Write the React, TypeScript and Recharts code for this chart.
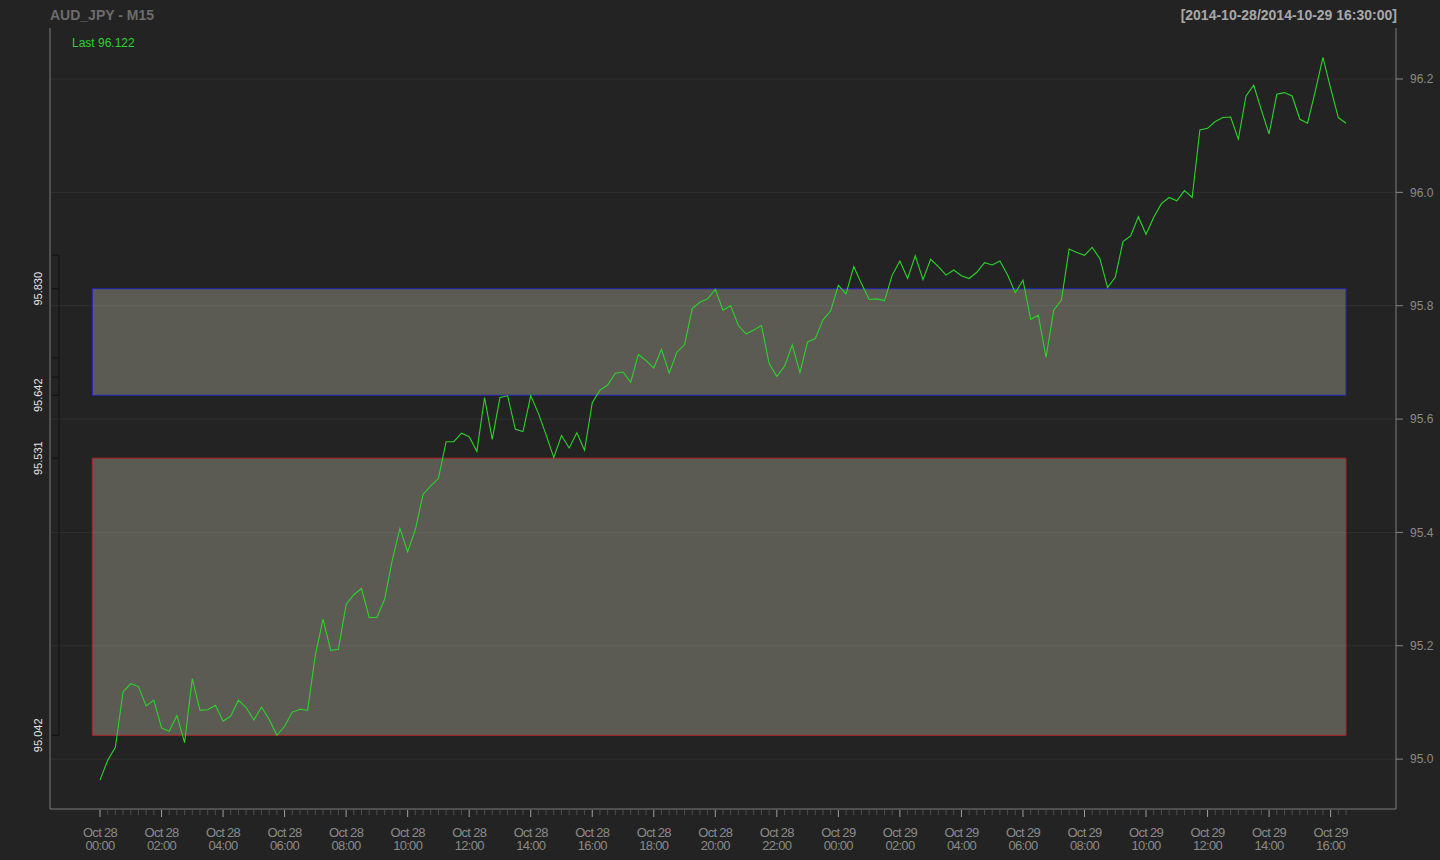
import {
  LineChart,
  Line,
  XAxis,
  YAxis,
  CartesianGrid,
  ReferenceArea,
  ReferenceLine,
} from "recharts";

const title = "AUD_JPY - M15";
const rangeLabel = "[2014-10-28/2014-10-29 16:30:00]";
const lastLabel = "Last 96.122";

// 15-minute closes, Oct 28 00:00 -> Oct 29 16:30
const prices = [
  94.963, 94.998, 95.021, 95.119, 95.133, 95.128, 95.094, 95.104, 95.055, 95.049,
  95.077, 95.029, 95.142, 95.086, 95.087, 95.095, 95.067, 95.076, 95.104, 95.091,
  95.069, 95.092, 95.07, 95.042, 95.058, 95.083, 95.088, 95.086, 95.184, 95.247,
  95.192, 95.194, 95.273, 95.29, 95.301, 95.25, 95.25, 95.282, 95.351, 95.407,
  95.366, 95.405, 95.467, 95.482, 95.495, 95.56, 95.56, 95.575, 95.569, 95.543,
  95.638, 95.564, 95.638, 95.641, 95.582, 95.578, 95.641, 95.61, 95.572, 95.532,
  95.571, 95.549, 95.576, 95.545, 95.629, 95.651, 95.66, 95.681, 95.683, 95.665,
  95.714, 95.703, 95.69, 95.723, 95.681, 95.718, 95.731, 95.795, 95.806, 95.812,
  95.829, 95.792, 95.8, 95.765, 95.75, 95.757, 95.765, 95.698, 95.675, 95.693,
  95.731, 95.682, 95.736, 95.742, 95.775, 95.791, 95.836, 95.821, 95.869, 95.839,
  95.811, 95.812, 95.809, 95.854, 95.879, 95.848, 95.888, 95.846, 95.882, 95.869,
  95.854, 95.863, 95.853, 95.848, 95.859, 95.876, 95.872, 95.879, 95.854, 95.823,
  95.845, 95.776, 95.783, 95.709, 95.792, 95.81, 95.9, 95.894, 95.889, 95.903,
  95.883, 95.832, 95.85, 95.913, 95.923, 95.957, 95.926, 95.956, 95.98, 95.991,
  95.985, 96.003, 95.991, 96.11, 96.113, 96.125, 96.132, 96.133, 96.094, 96.17,
  96.189, 96.145, 96.103, 96.173, 96.176, 96.17, 96.129, 96.122, 96.178, 96.238,
  96.184, 96.132, 96.122,
];

// one label every 8 bars (2 hours)
const tickDays = [
  "Oct 28", "Oct 28", "Oct 28", "Oct 28", "Oct 28", "Oct 28", "Oct 28",
  "Oct 28", "Oct 28", "Oct 28", "Oct 28", "Oct 28", "Oct 29", "Oct 29",
  "Oct 29", "Oct 29", "Oct 29", "Oct 29", "Oct 29", "Oct 29", "Oct 29",
];
const tickTimes = [
  "00:00", "02:00", "04:00", "06:00", "08:00", "10:00", "12:00",
  "14:00", "16:00", "18:00", "20:00", "22:00", "00:00", "02:00",
  "04:00", "06:00", "08:00", "10:00", "12:00", "14:00", "16:00",
];
const LABEL_EVERY = 8;

const priceTicks = [95.0, 95.2, 95.4, 95.6, 95.8, 96.0, 96.2];
const levelTicks = [95.889, 95.83, 95.708, 95.674, 95.642, 95.531, 95.042];
const labeledLevels = ["95.830", "95.642", "95.531", "95.042"];
const upperZone = [95.642, 95.83];
const lowerZone = [95.042, 95.531];

const data = prices.map((price, i) => ({ i, price }));
const barTicks = prices.map((_, i) => i);

const X_DOMAIN: [number, number] = [-6.5, 168.5];
const Y_DOMAIN: [number, number] = [94.912, 96.29];
const LEVEL_AXIS_X = -5.33;

const BG = "#232323";
const FRAME = "#7c7c7c";
const GREEN = "#2ad42a";
const FONT = "'Liberation Sans', Arial, sans-serif";

function TimeTick(props: any) {
  const { x, y, payload } = props;
  const i = payload.value as number;
  const major = i % LABEL_EVERY === 0;
  const k = i / LABEL_EVERY;
  return (
    <g>
      <line
        x1={x}
        x2={x}
        y1={y + 1}
        y2={y + (major ? 8 : 6)}
        stroke={major ? "#a0a0a0" : "#4e4e4e"}
        strokeWidth={1}
      />
      {major ? (
        <text
          x={x}
          y={y}
          textAnchor="middle"
          fill="#8a8a8a"
          fontSize={13}
          letterSpacing={-0.7}
          fontFamily={FONT}
        >
          <tspan x={x} dy={27.5}>
            {tickDays[k]}
          </tspan>
          <tspan x={x} dy={13.5}>
            {tickTimes[k]}
          </tspan>
        </text>
      ) : null}
    </g>
  );
}

function LevelTick(props: any) {
  const { x, y, payload } = props;
  const label = payload.value.toFixed(3);
  const shown = labeledLevels.includes(label);
  return (
    <g>
      <line x1={x + 2} x2={x + 9} y1={y} y2={y} stroke="#111111" />
      {shown ? (
        <text
          transform={`translate(${x - 8}, ${y}) rotate(-90)`}
          textAnchor="middle"
          fill="#e2e2e2"
          fontSize={11}
          fontFamily={FONT}
        >
          {label}
        </text>
      ) : null}
    </g>
  );
}

export default function App() {
  return (
    <div
      style={{
        position: "fixed",
        left: 0,
        top: 0,
        width: 1440,
        height: 860,
        background: BG,
        overflow: "hidden",
      }}
    >
      <LineChart
        width={1440}
        height={860}
        data={data}
        margin={{ top: 28, right: 0, bottom: 0, left: 0 }}
        style={{ position: "absolute", left: 0, top: 0 }}
      >
        <CartesianGrid
          xAxisId="x"
          yAxisId="price"
          vertical={false}
          stroke="#313131"
          horizontalValues={priceTicks}
        />
        <XAxis
          xAxisId="x"
          dataKey="i"
          type="number"
          domain={X_DOMAIN}
          ticks={barTicks}
          interval={0}
          height={51}
          tickSize={0}
          tickMargin={0}
          tickLine={false}
          axisLine={{ stroke: FRAME }}
          tick={(p: any) => <TimeTick {...p} />}
          allowDataOverflow
        />
        <XAxis
          xAxisId="top"
          dataKey="i"
          type="number"
          orientation="top"
          domain={X_DOMAIN}
          height={0}
          tick={false}
          tickLine={false}
          axisLine={{ stroke: FRAME }}
          allowDataOverflow
        />
        <YAxis
          yAxisId="level"
          orientation="left"
          type="number"
          domain={Y_DOMAIN}
          ticks={levelTicks}
          interval={0}
          width={50}
          tickSize={0}
          tickMargin={0}
          tickLine={false}
          axisLine={{ stroke: FRAME }}
          tick={(p: any) => <LevelTick {...p} />}
          allowDataOverflow
        />
        <YAxis
          yAxisId="price"
          orientation="right"
          type="number"
          domain={Y_DOMAIN}
          ticks={priceTicks}
          interval={0}
          width={44}
          tickSize={7}
          tickMargin={7}
          tickLine={{ stroke: "#888888" }}
          axisLine={{ stroke: FRAME }}
          tick={{ fill: "#8a8a8a", fontSize: 12, fontFamily: FONT }}
          tickFormatter={(v: number) => v.toFixed(1)}
          allowDataOverflow
        />
        <ReferenceArea
          xAxisId="x"
          yAxisId="price"
          x1={-1}
          x2={prices.length - 1}
          y1={upperZone[0]}
          y2={upperZone[1]}
          fill="#ffffe0"
          fillOpacity={0.255}
          stroke="#2424b8"
          strokeWidth={1}
        />
        <ReferenceArea
          xAxisId="x"
          yAxisId="price"
          x1={-1}
          x2={prices.length - 1}
          y1={lowerZone[0]}
          y2={lowerZone[1]}
          fill="#ffffe0"
          fillOpacity={0.255}
          stroke="#b02626"
          strokeWidth={1}
        />
        <ReferenceLine
          xAxisId="x"
          yAxisId="level"
          segment={[
            { x: LEVEL_AXIS_X, y: levelTicks[levelTicks.length - 1] },
            { x: LEVEL_AXIS_X, y: levelTicks[0] },
          ]}
          stroke="#111111"
          strokeWidth={1}
          ifOverflow="visible"
        />
        <Line
          xAxisId="x"
          yAxisId="price"
          type="linear"
          dataKey="price"
          stroke={GREEN}
          strokeWidth={1.1}
          dot={false}
          activeDot={false}
          isAnimationActive={false}
        />
      </LineChart>
      <svg
        width={1440}
        height={860}
        style={{ position: "absolute", left: 0, top: 0, pointerEvents: "none" }}
      >
        <text x={50} y={20} fill="#6c6c6c" fontSize={14} fontWeight="bold" fontFamily={FONT}>
          {title}
        </text>
        <text
          x={1397}
          y={20}
          textAnchor="end"
          fill="#a8a8a8"
          fontSize={14}
          fontWeight="bold"
          fontFamily={FONT}
        >
          {rangeLabel}
        </text>
        <text x={72} y={47} fill={GREEN} fontSize={12} fontFamily={FONT}>
          {lastLabel}
        </text>
      </svg>
    </div>
  );
}
